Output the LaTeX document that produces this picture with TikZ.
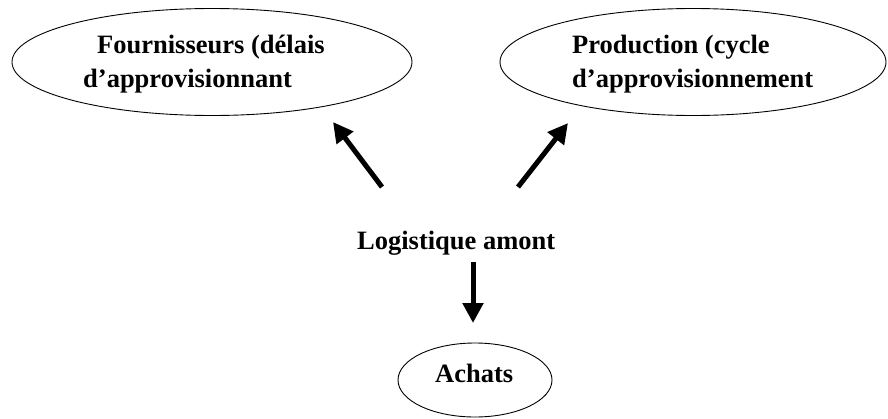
\documentclass[tikz,border=0pt]{standalone}
\usepackage{fontspec}
\setmainfont{Liberation Serif}
\usetikzlibrary{shapes.geometric,arrows.meta}
\begin{document}
\begin{tikzpicture}[x=1pt,y=-1pt,
  oval/.style={draw,ellipse,line width=0.9pt,inner sep=0pt},
  lbl/.style={anchor=base west,inner sep=0pt,font=\fontsize{26.5}{32}\selectfont\bfseries},
  bigarrow/.style={line width=5pt,-{Triangle[length=20pt,width=20pt]}}]
\useasboundingbox (0,0) rectangle (888,418);
% ellipses
\node[oval,minimum width=400pt,minimum height=107pt] (four) at (212,62) {};
\node[oval,minimum width=386pt,minimum height=107pt] (prod) at (693,62) {};
\node[oval,minimum width=154pt,minimum height=74pt] (ach) at (475,380) {};
% texts
\node[lbl] (f1) at (97,53) {Fournisseurs (délais};
\node[lbl] (f2) at (83,87) {d’approvisionnant};
\node[lbl] (p1) at (572,53) {Production (cycle};
\node[lbl] (p2) at (572,87) {d’approvisionnement};
\node[lbl] (log) at (357,249) {Logistique amont};
\node[lbl] (achtxt) at (435,382) {Achats};
% arrows
\coordinate (lt) at (382,187);
\coordinate (lh) at (333,122);
\coordinate (rt) at (518,187);
\coordinate (rh) at (568,123);
\coordinate (dt) at (473,262);
\coordinate (dh) at (473,323);
\draw[bigarrow] (lt) -- (lh);
\draw[bigarrow] (rt) -- (rh);
\draw[bigarrow] (dt) -- (dh);
\end{tikzpicture}
\end{document}
